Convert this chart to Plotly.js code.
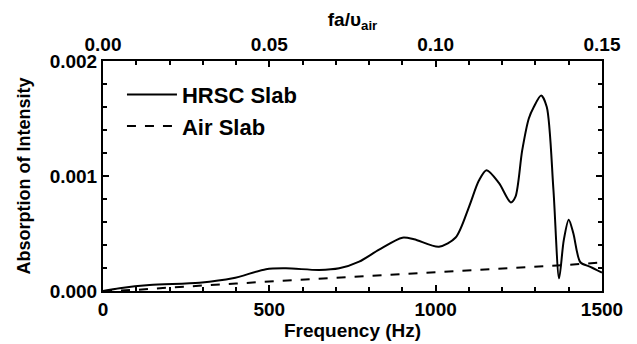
<!DOCTYPE html>
<html>
<head>
<meta charset="utf-8">
<script src="https://cdn.plot.ly/plotly-3.0.1.min.js"></script>
<style>html,body{margin:0;padding:0;background:#fff;}#chart{width:637px;height:344px;}</style>
</head>
<body>
<div id="chart"></div>
<script>
// Data
const hrscFreq = [0, 50, 140, 290, 390, 490, 550, 650, 710, 770, 830, 900, 935, 1010, 1060, 1100, 1130, 1153, 1190, 1226, 1240, 1260, 1280, 1295, 1317, 1334, 1354, 1371, 1385, 1400, 1414, 1435, 1465, 1500];
const hrscAbs = [0, 0.000024, 0.000052, 0.000072, 0.00011, 0.00019, 0.000197, 0.000183, 0.000197, 0.000255, 0.00036, 0.000464, 0.00045, 0.000385, 0.000465, 0.00073, 0.00096, 0.00105, 0.00094, 0.00077, 0.00082, 0.00122, 0.0015, 0.0016, 0.0017, 0.0016, 0.00088, 0.00011, 0.00044, 0.00062, 0.0005, 0.00025, 0.00021, 0.00016];
const airFreq = [0, 100, 200, 300, 400, 500, 600, 700, 800, 900, 1000, 1100, 1200, 1300, 1400, 1500];
const airAbs = [0, 0.00001, 0.00003, 0.000045, 0.000065, 0.000082, 0.000098, 0.000112, 0.000128, 0.000148, 0.000165, 0.00018, 0.000195, 0.000212, 0.000228, 0.000248];
const topTicks = [0, 0.05, 0.10, 0.15];
const topTickText = ["0.00", "0.05", "0.10", "0.15"];
const yTicks = [0, 0.001, 0.002];
const yTickText = ["0.000", "0.001", "0.002"];
const xTicks = [0, 500, 1000, 1500];

const fam = "Liberation Sans, Arial, sans-serif";
const f = (size) => ({family: fam, color: "#000", size: size, weight: "bold"});

const traces = [
  {x: hrscFreq, y: hrscAbs, type: "scatter", mode: "lines", name: "HRSC Slab",
   line: {color: "#000", width: 2, shape: "spline", smoothing: 0.8}},
  {x: airFreq, y: airAbs, type: "scatter", mode: "lines", name: "Air Slab",
   line: {color: "#000", width: 2, dash: "dash"}},
  {x: [], y: [], xaxis: "x2", yaxis: "y", showlegend: false, hoverinfo: "skip"}
];

const layout = {
  width: 637, height: 344,
  margin: {l: 103, r: 35, t: 61, b: 53},
  paper_bgcolor: "#fff", plot_bgcolor: "#fff",
  font: f(18),
  showlegend: true,
  legend: {x: 0.038, y: 0.945, xanchor: "left", yanchor: "top", bgcolor: "rgba(0,0,0,0)",
           font: f(22), tracegroupgap: 0, itemwidth: 50},
  xaxis: {
    range: [0, 1500], tickvals: xTicks, ticktext: xTicks.map(String),
    ticks: "inside", ticklen: 6, tickwidth: 2, tickcolor: "#000",
    minor: {dtick: 100, ticks: "inside", ticklen: 4, tickwidth: 2, tickcolor: "#000"},
    showline: true, linewidth: 2, linecolor: "#000", mirror: false,
    showgrid: false, zeroline: false,
    tickfont: f(19),
    title: {text: "Frequency (Hz)", font: f(19), standoff: 3}
  },
  xaxis2: {
    overlaying: "x", side: "top", anchor: "y",
    range: [0, 0.15], tickvals: topTicks, ticktext: topTickText,
    ticks: "inside", ticklen: 6, tickwidth: 2, tickcolor: "#000",
    minor: {dtick: 0.01, ticks: "inside", ticklen: 4, tickwidth: 2, tickcolor: "#000"},
    showline: true, linewidth: 2, linecolor: "#000",
    showgrid: false, zeroline: false,
    tickfont: f(19),
    title: {text: "fa/υ<sub>air</sub>", font: f(19), standoff: 3}
  },
  yaxis: {
    range: [0, 0.002], tickvals: yTicks, ticktext: yTickText,
    ticks: "inside", ticklen: 6, tickwidth: 2, tickcolor: "#000",
    minor: {dtick: 0.0002, ticks: "inside", ticklen: 4, tickwidth: 2, tickcolor: "#000"},
    showline: true, linewidth: 2, linecolor: "#000", mirror: "ticks",
    showgrid: false, zeroline: false,
    tickfont: f(19),
    title: {text: "Absorption of Intensity", font: f(18), standoff: 14}
  }
};

Plotly.newPlot("chart", traces, layout, {displayModeBar: false, staticPlot: true});
</script>
</body>
</html>
